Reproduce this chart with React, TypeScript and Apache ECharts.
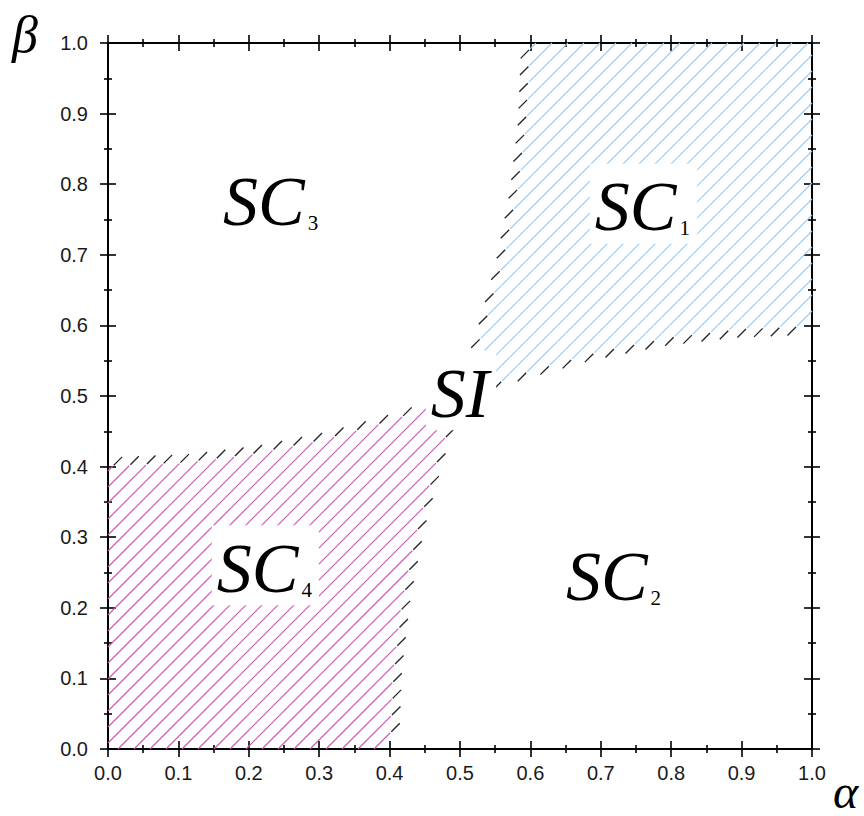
import React, { useEffect, useRef } from 'react';
import * as echarts from 'echarts';

// Tick labels (both axes)
const TICK_LABELS = ['0.0', '0.1', '0.2', '0.3', '0.4', '0.5', '0.6', '0.7', '0.8', '0.9', '1.0'];

// Boundary of region SC1 (alpha, beta)
const SC1_LEFT_EDGE = [[0.6, 1.0], [0.596, 0.9], [0.584, 0.8], [0.564, 0.7], [0.536, 0.6], [0.5, 0.5]];
const SC1_BOTTOM_EDGE = [[0.6, 0.536], [0.7, 0.564], [0.8, 0.584], [0.9, 0.596], [1.0, 0.6]];
const SC1_CORNER = [[1.0, 1.0]];

// Boundary of region SC4
const SC4_RIGHT_EDGE = [[0.4, 0.0], [0.404, 0.1], [0.416, 0.2], [0.436, 0.3], [0.464, 0.4], [0.5, 0.5]];
const SC4_TOP_EDGE = [[0.4, 0.464], [0.3, 0.436], [0.2, 0.416], [0.1, 0.404], [0.0, 0.4]];
const SC4_CORNER = [[0.0, 0.0]];

// Region labels (centre of each label in alpha, beta)
const LABEL_MAIN = ['SC', 'SC', 'SC', 'SC', 'SI'];
const LABEL_SUB = ['1', '2', '3', '4', ''];
const LABEL_X = [0.759, 0.718, 0.231, 0.222, 0.5];
const LABEL_Y = [0.768, 0.244, 0.776, 0.256, 0.504];

const BLUE = '#9ec8ea';
const MAGENTA = '#c656b2';
const SERIF = 'Liberation Serif';
const SANS = 'Liberation Sans';
const MAIN_SIZE = 70;
const SUB_SIZE = 21;

let measureCtx: CanvasRenderingContext2D | null = null;
function measure(text: string, font: string): number {
  if (!measureCtx) measureCtx = document.createElement('canvas').getContext('2d');
  if (!measureCtx) return text.length * 35;
  measureCtx.font = font;
  return measureCtx.measureText(text).width;
}

function makeHatch(poly: number[][], color: string, blackAtUpperRight: boolean) {
  return (params: any, api: any) => {
    if (params.dataIndex !== 0) return null;
    const pts: number[][] = poly.map((p) => api.coord(p));
    const o = api.coord([0, 0]);
    const SP = 16;
    const c0 = o[0] + o[1] + 10;
    let cmin = Infinity;
    let cmax = -Infinity;
    for (const p of pts) {
      const c = p[0] + p[1];
      if (c < cmin) cmin = c;
      if (c > cmax) cmax = c;
    }
    const children: any[] = [];
    const n = pts.length;
    const d = 1 / Math.SQRT2;
    const GAP = 1.5;
    const LEN = 12;
    const k = Math.ceil((cmin - c0) / SP);
    for (let c = c0 + k * SP; c <= cmax; c += SP) {
      const xs: number[][] = [];
      for (let i = 0; i < n; i++) {
        const p = pts[i];
        const q = pts[(i + 1) % n];
        const fp = p[0] + p[1] - c;
        const fq = q[0] + q[1] - c;
        if ((fp < 0) !== (fq < 0)) {
          const t = fp / (fp - fq);
          xs.push([p[0] + t * (q[0] - p[0]), p[1] + t * (q[1] - p[1])]);
        }
      }
      xs.sort((a, b) => a[0] - b[0]);
      for (let j = 0; j + 1 < xs.length; j += 2) {
        const a = xs[j];
        const b = xs[j + 1];
        children.push({
          type: 'line',
          shape: { x1: a[0], y1: a[1], x2: b[0], y2: b[1] },
          style: { stroke: color, lineWidth: 1.1 },
        });
        let s: number[];
        let e: number[];
        if (blackAtUpperRight) {
          s = [b[0] + d * GAP, b[1] - d * GAP];
          e = [b[0] + d * (GAP + LEN), b[1] - d * (GAP + LEN)];
        } else {
          s = [a[0] - d * GAP, a[1] + d * GAP];
          e = [a[0] - d * (GAP + LEN), a[1] + d * (GAP + LEN)];
        }
        children.push({
          type: 'line',
          shape: { x1: s[0], y1: s[1], x2: e[0], y2: e[1] },
          style: { stroke: '#222', lineWidth: 1.3 },
        });
      }
    }
    return { type: 'group', children };
  };
}

export default function App() {
  const ref = useRef<HTMLDivElement>(null);
  useEffect(() => {
    const chart = echarts.init(ref.current!, null, { renderer: 'svg' });

    const sc1Poly = [...SC1_CORNER, ...SC1_LEFT_EDGE, ...SC1_BOTTOM_EDGE];
    const sc4Poly = [...SC4_CORNER, ...SC4_RIGHT_EDGE, ...SC4_TOP_EDGE];

    const tickStyle = { color: '#000', width: 1.6 };
    const base = (extra: any) => ({
      type: 'value',
      min: 0,
      max: 1,
      interval: 0.1,
      splitLine: { show: false },
      axisLine: { show: true, onZero: false, lineStyle: { color: '#000', width: 2 } },
      axisTick: { show: true, length: 8, inside: false, lineStyle: tickStyle },
      minorTick: { show: true, splitNumber: 2, length: 4, lineStyle: tickStyle },
      axisLabel: { show: false },
      ...extra,
    });
    const labelStyle = {
      show: true,
      fontFamily: SANS,
      fontSize: 20,
      color: '#1a1a1a',
      formatter: (v: number) => TICK_LABELS[Math.round(v * 10)],
    };

    const option: any = {
      animation: false,
      backgroundColor: '#fff',
      grid: { left: 108, top: 43, width: 704, height: 706, containLabel: false },
      xAxis: [
        base({ position: 'bottom', axisLabel: { ...labelStyle, margin: 14 } }),
        base({ position: 'bottom', axisTick: { show: true, length: 8, inside: true, lineStyle: tickStyle } }),
        base({ position: 'top' }),
        base({ position: 'top', axisTick: { show: true, length: 8, inside: true, lineStyle: tickStyle } }),
      ],
      yAxis: [
        base({ position: 'left', axisLabel: { ...labelStyle, margin: 20 } }),
        base({ position: 'left', axisTick: { show: true, length: 8, inside: true, lineStyle: tickStyle } }),
        base({ position: 'right' }),
        base({ position: 'right', axisTick: { show: true, length: 8, inside: true, lineStyle: tickStyle } }),
      ],
      series: [
        {
          type: 'custom',
          coordinateSystem: 'cartesian2d',
          xAxisIndex: 0,
          yAxisIndex: 0,
          z: 2,
          data: [sc1Poly[0]],
          renderItem: makeHatch(sc1Poly, BLUE, false),
        },
        {
          type: 'custom',
          coordinateSystem: 'cartesian2d',
          xAxisIndex: 0,
          yAxisIndex: 0,
          z: 2,
          data: [sc4Poly[0]],
          renderItem: makeHatch(sc4Poly, MAGENTA, true),
        },
      ],
    };
    chart.setOption(option);

    // Text elements placed through the grid's own scales
    const rects: any[] = [];
    const subs: any[] = [];
    const mains: any[] = [];
    LABEL_X.forEach((x, i) => {
      const p = chart.convertToPixel({ xAxisIndex: 0, yAxisIndex: 0 }, [x, LABEL_Y[i]]) as number[];
      const main = LABEL_MAIN[i];
      const sub = LABEL_SUB[i];
      const mw = measure(main, `italic ${MAIN_SIZE}px "${SERIF}"`);
      const sw = sub ? measure(sub, `${SUB_SIZE}px "${SERIF}"`) + 3 : 0;
      const total = mw + sw;
      const left = p[0] - total / 2;
      rects.push({
        type: 'rect',
        z: 100,
        shape: { x: left - 5, y: p[1] - 43, width: total + 12, height: 80 },
        style: { fill: '#fff' },
      });
      mains.push({
        type: 'text',
        x: left,
        y: p[1] - MAIN_SIZE / 2,
        z: 101,
        style: { text: main, fontFamily: SERIF, fontStyle: 'italic', fontSize: MAIN_SIZE, fill: '#000' },
      });
      if (sub) {
        subs.push({
          type: 'text',
          x: left + mw + 3,
          y: p[1] + 11,
          z: 101,
          style: { text: sub, fontFamily: SERIF, fontSize: SUB_SIZE, fill: '#000' },
        });
      }
    });
    const greek = [
      {
        type: 'text',
        x: 12,
        y: 8,
        z: 100,
        style: { text: 'β', fontFamily: SERIF, fontStyle: 'italic', fontSize: 52, fill: '#000' },
      },
      {
        type: 'text',
        x: 833,
        y: 767,
        z: 100,
        style: { text: 'α', fontFamily: SERIF, fontStyle: 'italic', fontSize: 48, fill: '#000' },
      },
    ];
    chart.setOption({ graphic: [...rects, ...subs, ...mains, ...greek] });

    return () => chart.dispose();
  }, []);
  return (
    <div
      ref={ref}
      style={{ position: 'absolute', left: 0, top: 0, width: 864, height: 816, background: '#fff' }}
    />
  );
}
